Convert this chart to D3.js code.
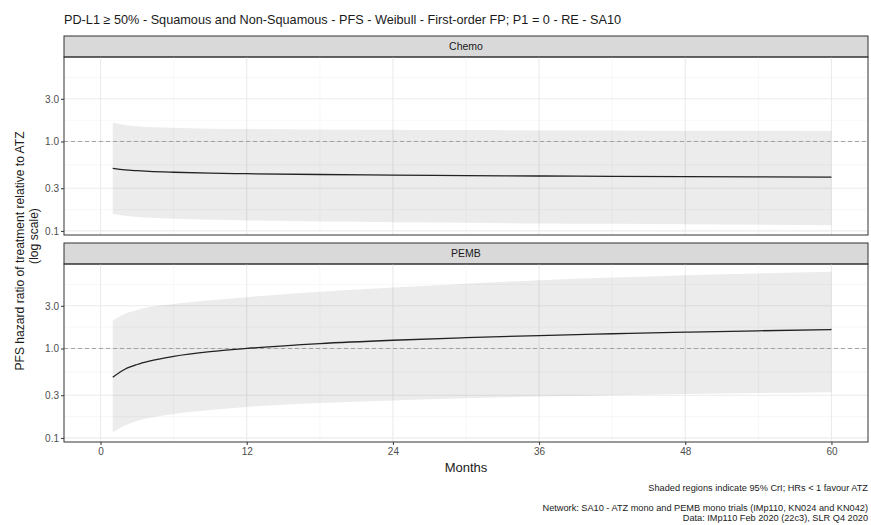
<!DOCTYPE html>
<html lang="en">
<head>
  <meta charset="utf-8">
  <title>PFS hazard ratio - Weibull</title>
  <script src="https://cdn.jsdelivr.net/npm/d3@7"></script>
  <style>
    body { margin: 0; background: #fff; }
    text { font-family: "Liberation Sans", Arial, sans-serif; }
  </style>
</head>
<body>
<script>
  // data
  var months = [1, 2, 3, 4, 6, 9, 12, 18, 24, 30, 36, 42, 48, 54, 60];

  var chemoHR = [0.50, 0.481, 0.471, 0.463, 0.453, 0.443, 0.436, 0.427, 0.420, 0.415, 0.411, 0.408, 0.405, 0.402, 0.400];
  var chemoLo = [0.155, 0.148, 0.143, 0.140, 0.137, 0.133, 0.131, 0.127, 0.125, 0.123, 0.121, 0.120, 0.119, 0.117, 0.116];
  var chemoHi = [1.63, 1.53, 1.48, 1.45, 1.42, 1.39, 1.38, 1.36, 1.35, 1.34, 1.33, 1.33, 1.32, 1.32, 1.31];

  var pembHR = [0.476, 0.586, 0.662, 0.722, 0.815, 0.92, 1.00, 1.133, 1.235, 1.32, 1.395, 1.46, 1.52, 1.575, 1.63];
  var pembLo = [0.116, 0.138, 0.155, 0.167, 0.185, 0.205, 0.222, 0.245, 0.262, 0.277, 0.290, 0.300, 0.310, 0.318, 0.325];
  var pembHi = [2.05, 2.45, 2.70, 2.90, 3.15, 3.45, 3.75, 4.30, 4.80, 5.30, 5.80, 6.20, 6.60, 6.90, 7.20];

  var facets = ["Chemo", "PEMB"];
  var yBreaks = [0.1, 0.3, 1.0, 3.0];
  var yMinor = [0.173, 0.548, 1.73, 5.2];
  var xBreaks = [0, 12, 24, 36, 48, 60];
  var xMinor = [6, 18, 30, 42, 54];

  var panels = [
    { name: facets[0], hr: chemoHR, lo: chemoLo, hi: chemoHi },
    { name: facets[1], hr: pembHR, lo: pembLo, hi: pembHi }
  ];

  var W = 871, H = 525;
  var left = 64, right = 868;
  var stripH = 21, plotH = 178, gap = 8, top0 = 36;

  var svg = d3.select("body").append("svg")
    .attr("width", W)
    .attr("height", H);

  var x = d3.scaleLinear().domain([-3, 63]).range([left, right]);

  svg.append("text")
    .attr("x", left)
    .attr("y", 24)
    .attr("font-size", 12.7)
    .attr("fill", "#1a1a1a")
    .text("PD-L1 \u2265 50% - Squamous and Non-Squamous - PFS - Weibull - First-order FP; P1 = 0 - RE - SA10");

  panels.forEach(function(p, i) {
    var sTop = top0 + i * (stripH + plotH + gap);
    var pTop = sTop + stripH;
    var y = d3.scaleLog().domain([0.09, 8.8]).range([pTop + plotH, pTop]);

    var g = svg.append("g");

    // strip
    g.append("rect")
      .attr("x", left).attr("y", sTop)
      .attr("width", right - left).attr("height", stripH)
      .attr("fill", "#d9d9d9")
      .attr("stroke", "#333").attr("stroke-width", 1);
    g.append("text")
      .attr("x", (left + right) / 2).attr("y", sTop + stripH / 2 + 3.8)
      .attr("text-anchor", "middle")
      .attr("font-size", 10.5)
      .attr("fill", "#1a1a1a")
      .text(p.name);

    // grid
    g.selectAll(".ymin").data(yMinor).enter().append("line")
      .attr("x1", left).attr("x2", right)
      .attr("y1", function(d) { return y(d); }).attr("y2", function(d) { return y(d); })
      .attr("stroke", "#f2f2f2").attr("stroke-width", 0.6);
    g.selectAll(".xmin").data(xMinor).enter().append("line")
      .attr("y1", pTop).attr("y2", pTop + plotH)
      .attr("x1", function(d) { return x(d); }).attr("x2", function(d) { return x(d); })
      .attr("stroke", "#f2f2f2").attr("stroke-width", 0.6);
    g.selectAll(".ymaj").data(yBreaks).enter().append("line")
      .attr("x1", left).attr("x2", right)
      .attr("y1", function(d) { return y(d); }).attr("y2", function(d) { return y(d); })
      .attr("stroke", "#ebebeb").attr("stroke-width", 1.1);
    g.selectAll(".xmaj").data(xBreaks).enter().append("line")
      .attr("y1", pTop).attr("y2", pTop + plotH)
      .attr("x1", function(d) { return x(d); }).attr("x2", function(d) { return x(d); })
      .attr("stroke", "#ebebeb").attr("stroke-width", 1.1);

    // ribbon
    var rows = months.map(function(m, k) {
      return { t: m, hr: p.hr[k], lo: p.lo[k], hi: p.hi[k] };
    });
    var area = d3.area()
      .x(function(d) { return x(d.t); })
      .y0(function(d) { return y(d.lo); })
      .y1(function(d) { return y(d.hi); })
      .curve(d3.curveMonotoneX);
    g.append("path")
      .datum(rows)
      .attr("d", area)
      .attr("fill", "#000")
      .attr("fill-opacity", 0.075);

    // reference line at HR = 1
    g.append("line")
      .attr("x1", left).attr("x2", right)
      .attr("y1", y(1)).attr("y2", y(1))
      .attr("stroke", "#9a9a9a")
      .attr("stroke-width", 0.9)
      .attr("stroke-dasharray", "4,3");

    var line = d3.line()
      .x(function(d) { return x(d.t); })
      .y(function(d) { return y(d.hr); })
      .curve(d3.curveMonotoneX);
    g.append("path")
      .datum(rows)
      .attr("d", line)
      .attr("fill", "none")
      .attr("stroke", "#222")
      .attr("stroke-width", 1.3);

    // panel border
    g.append("rect")
      .attr("x", left).attr("y", pTop)
      .attr("width", right - left).attr("height", plotH)
      .attr("fill", "none")
      .attr("stroke", "#333").attr("stroke-width", 1);

    // y axis
    var yAxis = d3.axisLeft(y)
      .tickValues(yBreaks)
      .tickFormat(d3.format(".1f"))
      .tickSize(3)
      .tickPadding(2);
    var ya = g.append("g")
      .attr("transform", "translate(" + left + ",0)")
      .call(yAxis);
    ya.select(".domain").remove();
    ya.selectAll("line").attr("stroke", "#333");
    ya.selectAll("text")
      .attr("font-size", 10)
      .attr("fill", "#4d4d4d")
      .style("font-family", "Liberation Sans, Arial, sans-serif");

    if (i === panels.length - 1) {
      var xAxis = d3.axisBottom(x)
        .tickValues(xBreaks)
        .tickSize(3)
        .tickPadding(3);
      var xa = g.append("g")
        .attr("transform", "translate(0," + (pTop + plotH) + ")")
        .call(xAxis);
      xa.select(".domain").remove();
      xa.selectAll("line").attr("stroke", "#333");
      xa.selectAll("text")
        .attr("font-size", 10)
        .attr("fill", "#4d4d4d")
        .style("font-family", "Liberation Sans, Arial, sans-serif");
    }
  });

  // axis titles
  svg.append("text")
    .attr("x", (left + right) / 2).attr("y", 472)
    .attr("text-anchor", "middle")
    .attr("font-size", 13)
    .attr("fill", "#1a1a1a")
    .text("Months");

  svg.append("text")
    .attr("transform", "translate(24,251) rotate(-90)")
    .attr("text-anchor", "middle")
    .attr("font-size", 12.1)
    .attr("fill", "#1a1a1a")
    .text("PFS hazard ratio of treatment relative to ATZ");
  svg.append("text")
    .attr("transform", "translate(38,236) rotate(-90)")
    .attr("text-anchor", "middle")
    .attr("font-size", 12.1)
    .attr("fill", "#1a1a1a")
    .text("(log scale)");

  // captions
  var caps = [
    { t: "Shaded regions indicate 95% CrI; HRs < 1 favour ATZ", y: 491 },
    { t: "Network: SA10 - ATZ mono and PEMB mono trials (IMp110, KN024 and KN042)", y: 511 },
    { t: "Data: IMp110 Feb 2020 (22c3), SLR Q4 2020", y: 521 }
  ];
  svg.selectAll(".cap").data(caps).enter().append("text")
    .attr("x", right).attr("y", function(d) { return d.y; })
    .attr("text-anchor", "end")
    .attr("font-size", 9.2)
    .attr("fill", "#1a1a1a")
    .text(function(d) { return d.t; });
</script>
</body>
</html>
